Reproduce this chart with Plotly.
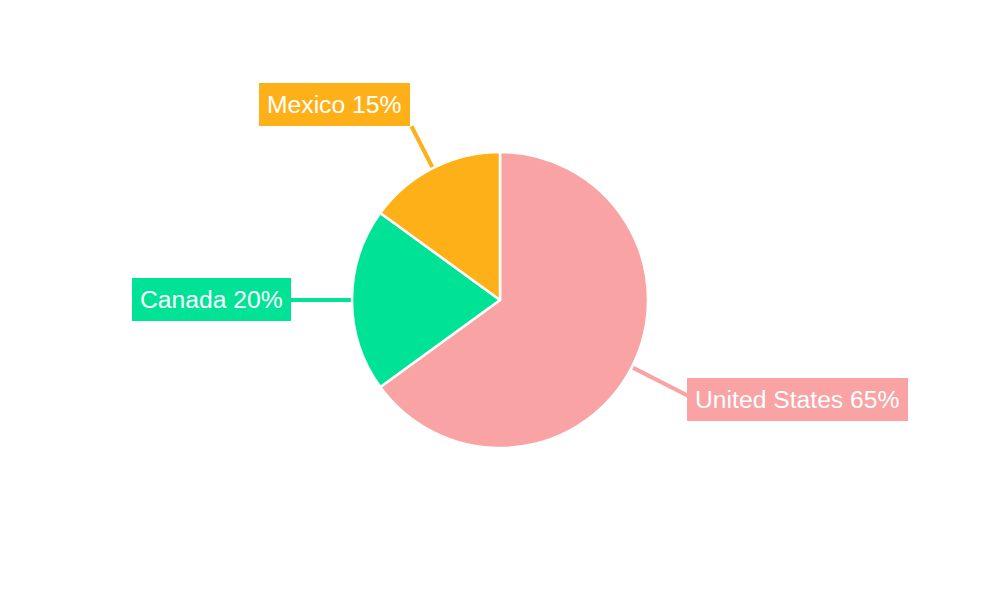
import math
import plotly.graph_objects as go

labels = ["United States", "Canada", "Mexico"]
values = [65, 20, 15]
colors = ["#F9A3A4", "#00E396", "#FEB019"]
# leader line lengths (px) and label box anchoring
lead_len = [63, 61, 47]
box_xanchor = ["left", "right", "right"]
box_yanchor = ["middle", "middle", "bottom"]
box_xshift = [-1, 0, -1]
box_yshift = [-4, 1, 0]

W, H = 1000, 600
BODY = 8  # page body margin
ml, mr, mt, mb = 0, 16, 144, 160
pw, ph = W - ml - mr, H - mt - mb
radius = ph / 2
cx, cy = BODY + ml + pw / 2, BODY + mt + ph / 2


def to_paper(sx, sy):
    fx, fy = sx - BODY, sy - BODY
    return (fx - ml) / pw, (H - mb - fy) / ph


fig = go.Figure(go.Pie(
    labels=labels, values=values, sort=False, direction="clockwise", rotation=0,
    marker=dict(colors=colors, line=dict(color="white", width=2.5)),
    textinfo="none", hoverinfo="label+percent", showlegend=False,
))

total = sum(values)
cum = 0
annotations, shapes = [], []
for i, (lab, v, c) in enumerate(zip(labels, values, colors)):
    mid = (cum + v / 2) / total * 2 * math.pi
    cum += v
    r0 = radius + 1
    r1 = radius + lead_len[i]
    x0, y0 = to_paper(cx + r0 * math.sin(mid), cy - r0 * math.cos(mid))
    x1, y1 = to_paper(cx + r1 * math.sin(mid), cy - r1 * math.cos(mid))
    shapes.append(dict(type="line", xref="paper", yref="paper", x0=x0, y0=y0, x1=x1, y1=y1,
                       line=dict(color=c, width=4), layer="below"))
    annotations.append(dict(
        x=x1, y=y1, xref="paper", yref="paper", showarrow=False,
        xanchor=box_xanchor[i], yanchor=box_yanchor[i],
        xshift=box_xshift[i], yshift=box_yshift[i],
        text=f"{lab} {round(v / total * 100)}%",
        bgcolor=c, borderpad=8, borderwidth=0,
        font=dict(family="Liberation Sans, Arial, sans-serif", size=24.7, color="white"),
    ))

fig.update_layout(
    width=W, height=H,
    margin=dict(l=ml, r=mr, t=mt, b=mb),
    paper_bgcolor="white", plot_bgcolor="white",
    annotations=annotations, shapes=shapes,
)
fig.write_html("out.html")
